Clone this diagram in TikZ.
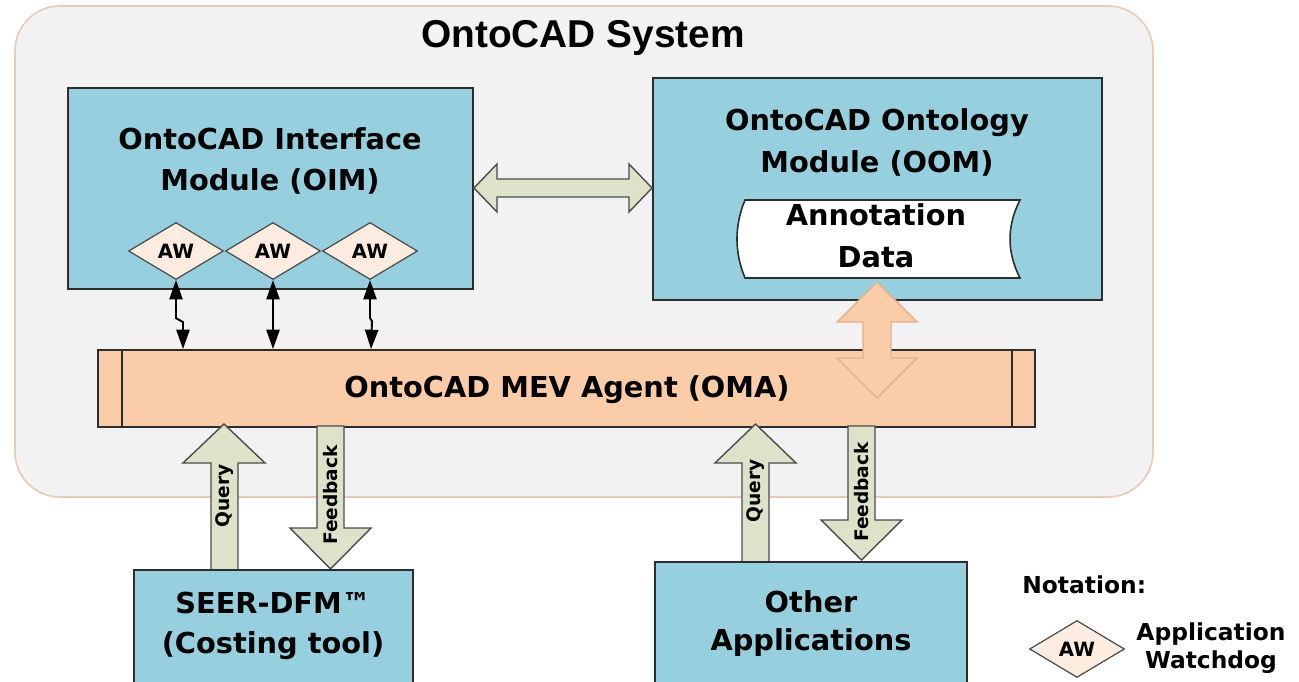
\documentclass[tikz,border=0pt]{standalone}
\usepackage{fontspec}
\setmainfont{DejaVu Sans}
\newfontfamily\titlefont{Liberation Sans}
\usetikzlibrary{arrows.meta,shapes.geometric,fit}

\definecolor{panel}{RGB}{242,242,242}
\definecolor{panelline}{RGB}{232,204,184}
\definecolor{modblue}{RGB}{150,207,221}
\definecolor{agentpeach}{RGB}{250,204,168}
\definecolor{peachline}{RGB}{228,176,138}
\definecolor{sage}{RGB}{221,227,201}
\definecolor{awfill}{RGB}{252,236,224}
\definecolor{ink}{RGB}{45,45,45}

\tikzset{
  module/.style={draw=ink, fill=modblue, line width=1.1pt, inner sep=0pt},
  boxtext/.style={font=\bfseries\fontsize{16.4}{20}\selectfont, anchor=base, inner sep=0pt},
  notetext/.style={font=\bfseries\fontsize{13.3}{16}\selectfont, anchor=base, inner sep=0pt},
  watchdog/.style={diamond, draw=ink!85, fill=awfill, line width=0.7pt,
    minimum width=1.9cm, minimum height=1.14cm, inner sep=0pt,
    font=\bfseries\fontsize{11.2}{13}\selectfont},
  blockarrow/.style={draw=ink!85, fill=sage, line width=0.8pt, line join=miter},
  flowtag/.style={rotate=90, font=\bfseries\fontsize{10.6}{12}\selectfont, inner sep=0pt},
  linkarrow/.style={line width=1.1pt,
    {Triangle[width=7.5pt,length=11pt]}-{Triangle[width=7.5pt,length=11pt]}},
}

\begin{document}
\begin{tikzpicture}[x=0.02cm, y=-0.02cm]
  \useasboundingbox (0,0) rectangle (1299,682);
  \clip (0,0) rectangle (1299,682);
  \fill[white] (0,0) rectangle (1299,682);

  % system panel
  \draw[panelline, fill=panel, line width=0.9pt, rounded corners=0.9cm]
    (15,6) rectangle (1153,497);
  \node[font=\titlefont\bfseries\fontsize{22.1}{26}\selectfont, anchor=base, inner sep=0pt]
    (title) at (583,48) {OntoCAD System};

  % interface module with its watchdogs
  \node[module, fit={(68,88) (473,289)}] (oim) {};
  \node[boxtext] (oimA) at (270,150) {OntoCAD Interface};
  \node[boxtext] (oimB) at (270,191) {Module (OIM)};
  \node[watchdog] (aw1) at (176,251) {AW};
  \node[watchdog] (aw2) at (273,251) {AW};
  \node[watchdog] (aw3) at (370,251) {AW};

  % ontology module
  \node[module, fit={(653,78) (1102,300)}] (oom) {};
  \node[boxtext] (oomA) at (877,131) {OntoCAD Ontology};
  \node[boxtext] (oomB) at (877,173) {Module (OOM)};
  \draw[draw=ink, fill=white, line width=0.9pt]
    (745,200) -- (1020,200) .. controls (1006.7,226) and (1006.7,252) .. (1020,278)
    -- (745,278) .. controls (734.3,252) and (734.3,226) .. (745,200) -- cycle;
  \coordinate (store) at (877,239);
  \node[boxtext] (annA) at (876,226) {Annotation};
  \node[boxtext] (annB) at (876,268) {Data};

  % agent bar
  \node[draw=ink, fill=agentpeach, line width=1.1pt, inner sep=0pt, fit={(98,350) (1035,427)}] (oma) {};
  \draw[ink, line width=1.1pt] ([xshift=0.5cm]oma.north west) -- ([xshift=0.5cm]oma.south west);
  \draw[ink, line width=1.1pt] ([xshift=-0.48cm]oma.north east) -- ([xshift=-0.48cm]oma.south east);
  \node[boxtext] (omaT) at (567,398) {OntoCAD MEV Agent (OMA)};

  % watchdog links to the agent
  \coordinate (k1) at (183,0);
  \coordinate (k3) at (371,0);
  \draw[linkarrow] (aw1.south) -- ++(0,38) -- ++(7,4) -- (k1 |- oma.north);
  \draw[linkarrow] (aw2.south) -- (aw2.south |- oma.north);
  \draw[linkarrow] (aw3.south) -- ++(0,38) -- ++(2,3) -- (k3 |- oma.north);

  % module exchange
  \draw[blockarrow] (oim.east |- 0,188) -- (497,164) -- (497,179) -- (629,179) -- (629,164)
    -- (oom.west |- 0,188) -- (629,212) -- (629,197) -- (497,197) -- (497,212) -- cycle;

  % ontology <-> agent
  \draw[draw=peachline, fill=agentpeach, line width=0.8pt, line join=miter]
    (877,282) -- (917,322) -- (891,322) -- (891,358) -- (917,358) -- (877,398)
    -- (837,358) -- (863,358) -- (863,322) -- (837,322) -- cycle;

  % query / feedback channels
  \draw[blockarrow] (224,424) -- (265,463) -- (238,463) -- (238,580) -- (211,580) -- (211,463) -- (183,463) -- cycle;
  \draw[blockarrow] (317,426) -- (344,426) -- (344,528) -- (371,528) -- (330.5,569) -- (290,528) -- (317,528) -- cycle;
  \draw[blockarrow] (755.5,424) -- (796,463) -- (769,463) -- (769,570) -- (742,570) -- (742,463) -- (715,463) -- cycle;
  \draw[blockarrow] (848,426) -- (875,426) -- (875,520) -- (902,520) -- (861.5,560) -- (821,520) -- (848,520) -- cycle;
  \node[flowtag] (q1) at (224.5,496) {Query};
  \node[flowtag] (f1) at (330.5,495) {Feedback};
  \node[flowtag] (q2) at (755.5,491) {Query};
  \node[flowtag] (f2) at (861.5,492) {Feedback};

  % client applications
  \node[module, fit={(134,570) (413,700)}] (seer) {};
  \node[boxtext] (seerA) at (273,613) {SEER-DFM™};
  \node[boxtext] (seerB) at (273,653) {(Costing tool)};
  \node[module, fit={(655,562) (967,700)}] (other) {};
  \node[boxtext] (otherA) at (811,612) {Other};
  \node[boxtext] (otherB) at (811,650) {Applications};

  % notation
  \node[notetext, anchor=base west] (notation) at (1022,593) {Notation:};
  \node[watchdog] (awkey) at (1077,649) {AW};
  \node[notetext] (keyA) at (1211,640) {Application};
  \node[notetext] (keyB) at (1211,668) {Watchdog};
\end{tikzpicture}
\end{document}
